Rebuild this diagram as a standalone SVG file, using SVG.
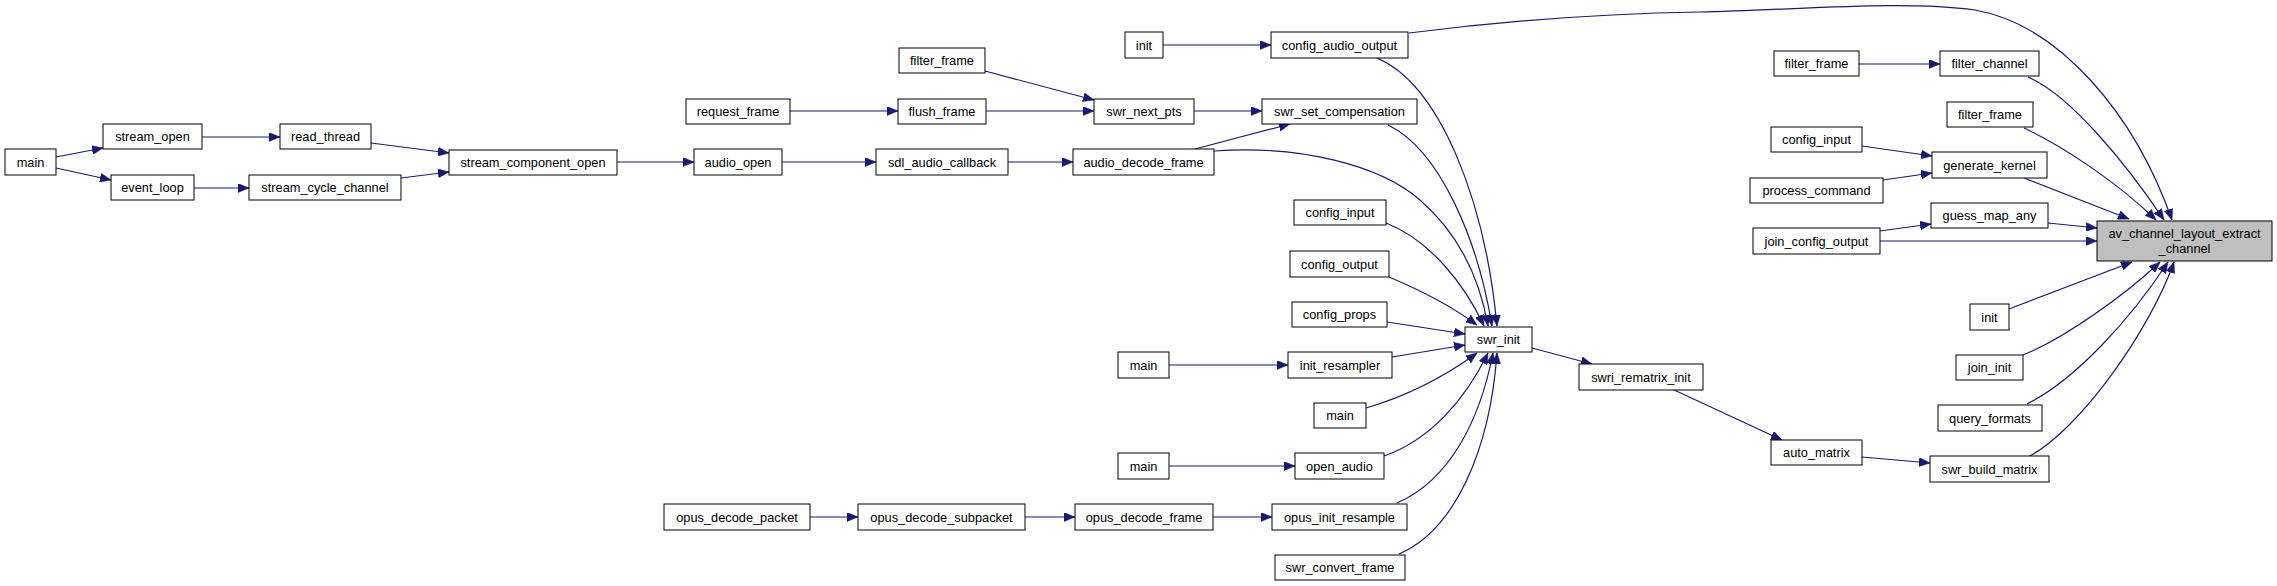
<svg xmlns="http://www.w3.org/2000/svg" width="2277" height="586" viewBox="0 0 2277 586">
<style>
.n rect{fill:#fff;stroke:#000;stroke-width:1}
.n text{font-family:"Liberation Sans",Arial,sans-serif;font-size:12.8px;fill:#000;text-anchor:middle}
#n_av rect{fill:#bfbfbf}
.e path{fill:none;stroke:#191970;stroke-width:1.2;marker-end:url(#ah)}
</style>
<defs>
<marker id="ah" markerUnits="userSpaceOnUse" markerWidth="12" markerHeight="9" refX="11" refY="4.5" orient="auto">
<path d="M0,0 L11,4.5 L0,9 z" fill="#191970" stroke="#191970" stroke-width="0.5"/>
</marker>
</defs>
<rect width="2277" height="586" fill="#fff"/>
<g id="edges" class="e">
<path d="M56,157 L103,148"/>
<path d="M56,168 L111,180"/>
<path d="M202,137 L280,137"/>
<path d="M194,188 L249,188"/>
<path d="M371,143 L449,153"/>
<path d="M401,178 L449,172"/>
<path d="M617,162 L694,162"/>
<path d="M782,162 L876,162"/>
<path d="M1008,162 L1073,162"/>
<path d="M790,111 L898,111"/>
<path d="M986,111 L1094,111"/>
<path d="M985,71 L1094,100"/>
<path d="M1194,111 L1262,111"/>
<path d="M1195,149 L1290,124"/>
<path d="M1163,45 L1271,45"/>
<path d="M1409,33 C1480,24 1580,14 1700,12 C1800,10 1900,0 1975,10 C2060,25 2135,115 2172,220"/>
<path d="M1377,58 C1440,85 1485,200 1497,326"/>
<path d="M1388,125 C1440,150 1478,240 1492,326"/>
<path d="M1214,151 C1300,145 1380,165 1420,200 C1460,235 1480,280 1488,326"/>
<path d="M1386,223 C1430,240 1465,285 1484,326"/>
<path d="M1389,277 C1420,290 1450,305 1477,325"/>
<path d="M1387,322 L1465,334"/>
<path d="M1392,357 L1465,345"/>
<path d="M1366,408 C1400,398 1440,380 1477,353"/>
<path d="M1384,456 C1430,440 1465,400 1488,353"/>
<path d="M1397,503 C1450,480 1480,420 1493,353"/>
<path d="M1399,554 C1455,530 1490,450 1497,353"/>
<path d="M1169,365 L1288,365"/>
<path d="M1169,466 L1295,466"/>
<path d="M810,517 L858,517"/>
<path d="M1025,517 L1075,517"/>
<path d="M1213,517 L1272,517"/>
<path d="M1532,348 L1592,364"/>
<path d="M1672,389 L1782,440"/>
<path d="M1862,457 L1930,463"/>
<path d="M1859,64 L1940,64"/>
<path d="M2028,77 C2070,95 2125,162 2164,220"/>
<path d="M2024,128 C2060,145 2115,180 2156,220"/>
<path d="M2024,178 L2129,219"/>
<path d="M1862,146 L1932,156"/>
<path d="M1883,180 L1932,173"/>
<path d="M1880,231 L1931,224"/>
<path d="M2048,223 L2097,228"/>
<path d="M1880,241 L2097,241"/>
<path d="M2009,309 L2132,262"/>
<path d="M2023,355 C2065,338 2125,295 2160,262"/>
<path d="M2027,404 C2075,380 2130,320 2168,262"/>
<path d="M2028,457 C2080,430 2150,330 2174,262"/>
</g>
<g id="n_main1" class="n"><rect x="5" y="149" width="51" height="26"/><text x="30.5" y="166.5">main</text></g>
<g id="n_stream_open" class="n"><rect x="103" y="124" width="99" height="25"/><text x="152.5" y="141">stream_open</text></g>
<g id="n_event_loop" class="n"><rect x="111" y="175" width="83" height="25"/><text x="152.5" y="192">event_loop</text></g>
<g id="n_read_thread" class="n"><rect x="280" y="124" width="91" height="25"/><text x="325.5" y="141">read_thread</text></g>
<g id="n_stream_cycle_channel" class="n"><rect x="249" y="175" width="152" height="25"/><text x="325" y="192">stream_cycle_channel</text></g>
<g id="n_stream_component_open" class="n"><rect x="449" y="150" width="168" height="25"/><text x="533" y="167">stream_component_open</text></g>
<g id="n_audio_open" class="n"><rect x="694" y="149" width="88" height="26"/><text x="738" y="166.5">audio_open</text></g>
<g id="n_sdl_audio_callback" class="n"><rect x="876" y="149" width="132" height="26"/><text x="942" y="166.5">sdl_audio_callback</text></g>
<g id="n_audio_decode_frame" class="n"><rect x="1073" y="149" width="141" height="26"/><text x="1143.5" y="166.5">audio_decode_frame</text></g>
<g id="n_request_frame" class="n"><rect x="686" y="99" width="104" height="25"/><text x="738" y="116">request_frame</text></g>
<g id="n_filter_frame1" class="n"><rect x="899" y="48" width="86" height="25"/><text x="942" y="65">filter_frame</text></g>
<g id="n_flush_frame" class="n"><rect x="898" y="99" width="88" height="25"/><text x="942" y="116">flush_frame</text></g>
<g id="n_swr_next_pts" class="n"><rect x="1094" y="99" width="100" height="25"/><text x="1144" y="116">swr_next_pts</text></g>
<g id="n_init1" class="n"><rect x="1125" y="32" width="38" height="26"/><text x="1144" y="49.5">init</text></g>
<g id="n_config_audio_output" class="n"><rect x="1271" y="32" width="137" height="26"/><text x="1339.5" y="49.5">config_audio_output</text></g>
<g id="n_swr_set_compensation" class="n"><rect x="1262" y="99" width="155" height="25"/><text x="1339.5" y="116">swr_set_compensation</text></g>
<g id="n_config_input1" class="n"><rect x="1294" y="200" width="92" height="25"/><text x="1340" y="217">config_input</text></g>
<g id="n_config_output" class="n"><rect x="1290" y="251" width="99" height="26"/><text x="1339.5" y="268.5">config_output</text></g>
<g id="n_config_props" class="n"><rect x="1292" y="302" width="95" height="25"/><text x="1339.5" y="319">config_props</text></g>
<g id="n_swr_init" class="n"><rect x="1465" y="327" width="67" height="25"/><text x="1498.5" y="344">swr_init</text></g>
<g id="n_main2" class="n"><rect x="1118" y="352" width="51" height="26"/><text x="1143.5" y="369.5">main</text></g>
<g id="n_init_resampler" class="n"><rect x="1288" y="352" width="104" height="26"/><text x="1340" y="369.5">init_resampler</text></g>
<g id="n_main3" class="n"><rect x="1314" y="403" width="52" height="25"/><text x="1340" y="420">main</text></g>
<g id="n_main4" class="n"><rect x="1118" y="453" width="51" height="26"/><text x="1143.5" y="470.5">main</text></g>
<g id="n_open_audio" class="n"><rect x="1295" y="453" width="89" height="26"/><text x="1339.5" y="470.5">open_audio</text></g>
<g id="n_opus_decode_packet" class="n"><rect x="664" y="504" width="146" height="26"/><text x="737" y="521.5">opus_decode_packet</text></g>
<g id="n_opus_decode_subpacket" class="n"><rect x="858" y="504" width="167" height="26"/><text x="941.5" y="521.5">opus_decode_subpacket</text></g>
<g id="n_opus_decode_frame" class="n"><rect x="1075" y="504" width="138" height="26"/><text x="1144" y="521.5">opus_decode_frame</text></g>
<g id="n_opus_init_resample" class="n"><rect x="1272" y="504" width="135" height="26"/><text x="1339.5" y="521.5">opus_init_resample</text></g>
<g id="n_swr_convert_frame" class="n"><rect x="1275" y="555" width="130" height="25"/><text x="1340" y="572">swr_convert_frame</text></g>
<g id="n_swri_rematrix_init" class="n"><rect x="1579" y="364" width="124" height="26"/><text x="1641" y="381.5">swri_rematrix_init</text></g>
<g id="n_auto_matrix" class="n"><rect x="1771" y="440" width="91" height="25"/><text x="1816.5" y="457">auto_matrix</text></g>
<g id="n_swr_build_matrix" class="n"><rect x="1930" y="456" width="119" height="26"/><text x="1989.5" y="473.5">swr_build_matrix</text></g>
<g id="n_filter_frame2" class="n"><rect x="1774" y="51" width="85" height="25"/><text x="1816.5" y="68">filter_frame</text></g>
<g id="n_filter_channel" class="n"><rect x="1940" y="51" width="99" height="25"/><text x="1989.5" y="68">filter_channel</text></g>
<g id="n_filter_frame3" class="n"><rect x="1947" y="102" width="86" height="25"/><text x="1990" y="119">filter_frame</text></g>
<g id="n_config_input2" class="n"><rect x="1771" y="127" width="91" height="25"/><text x="1816.5" y="144">config_input</text></g>
<g id="n_generate_kernel" class="n"><rect x="1932" y="152" width="115" height="26"/><text x="1989.5" y="169.5">generate_kernel</text></g>
<g id="n_process_command" class="n"><rect x="1750" y="178" width="133" height="25"/><text x="1816.5" y="195">process_command</text></g>
<g id="n_guess_map_any" class="n"><rect x="1931" y="203" width="117" height="25"/><text x="1989.5" y="220">guess_map_any</text></g>
<g id="n_join_config_output" class="n"><rect x="1753" y="228" width="127" height="26"/><text x="1816.5" y="245.5">join_config_output</text></g>
<g id="n_init2" class="n"><rect x="1970" y="304" width="39" height="26"/><text x="1989.5" y="321.5">init</text></g>
<g id="n_join_init" class="n"><rect x="1956" y="355" width="67" height="25"/><text x="1989.5" y="372">join_init</text></g>
<g id="n_query_formats" class="n"><rect x="1938" y="405" width="104" height="26"/><text x="1990" y="422.5">query_formats</text></g>
<g id="n_av" class="n"><rect x="2097" y="221" width="175" height="40"/><text x="2184.5" y="237.5">av_channel_layout_extract</text><text x="2184.5" y="252.5">_channel</text></g>
</svg>
